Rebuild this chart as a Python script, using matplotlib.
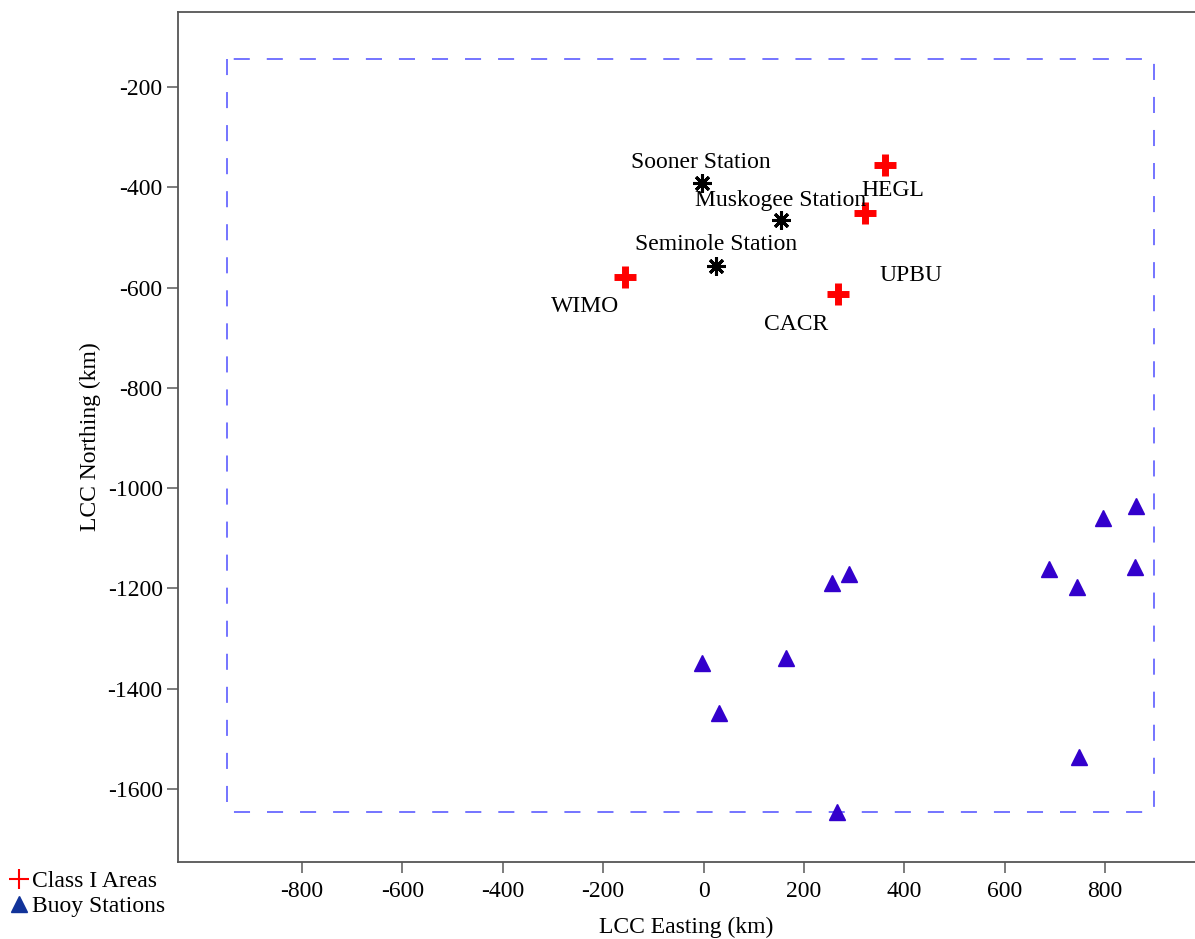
import matplotlib
matplotlib.use('Agg')
import matplotlib.pyplot as plt
from matplotlib.lines import Line2D

plt.rcParams['font.family'] = ['Liberation Serif', 'DejaVu Serif']
plt.rcParams['font.size'] = 17
plt.rcParams['axes.unicode_minus'] = False

# class I areas (red crosses)
class1_x = [361.6, 321.8, -156.4, 267.4]
class1_y = [-355.6, -450.6, -578.3, -613.5]
class1_names = ['HEGL', 'UPBU', 'WIMO', 'CACR']
class1_label_x = [377.6, 413.4, -236.0, 184.3]
class1_label_y = [-405.4, -575.0, -636.8, -672.7]

# power stations (black asterisks)
station_x = [-3.6, 153.8, 24.9]
station_y = [-392.0, -465.3, -557.0]
station_names = ['Sooner Station', 'Muskogee Station', 'Seminole Station']
station_label_x = [-5.0, 154.0, 24.9]
station_label_y = [-349.6, -425.4, -515.0]

# buoy stations (blue triangles)
buoy_x = [862.3, 796.6, 689.0, 860.3, 744.2, 747.6, 289.3, 256.0, -3.0, 165.0, 31.5, 266.6]
buoy_y = [-1035.7, -1060.2, -1160.7, -1156.7, -1197.8, -1536.9,
          -1171.9, -1189.8, -1349.4, -1339.4, -1449.1, -1646.5]

# modeling domain outline
domain_x = [-949, -949, 898, 898, -949]
domain_y = [-144, -1646, -1646, -144, -144]

x_ticks = list(range(-800, 801, 200))
y_ticks = list(range(-1600, -199, 200))

fig = plt.figure(figsize=(11.95, 9.39), dpi=100)
ax = fig.add_axes([178 / 1195, 77 / 939, 1017 / 1195, 850 / 939])

ax.plot(domain_x, domain_y, color='#4444ff', lw=1.3, alpha=0.8,
        dashes=(8.9, 9.4), zorder=1)

ax.plot(buoy_x, buoy_y, ls='none', marker='^', ms=11, color='#3300cc',
        mec='#3300cc', zorder=3, clip_on=False)
ax.plot(class1_x, class1_y, ls='none', marker='+', ms=16, mew=5,
        color='red', zorder=3)
ax.plot(station_x, station_y, ls='none', marker=(8, 2, 0), ms=13, mew=2.2,
        color='black', zorder=3)

for name, lx, ly in zip(class1_names, class1_label_x, class1_label_y):
    ax.text(lx, ly, name, ha='center', va='center')
for name, lx, ly in zip(station_names, station_label_x, station_label_y):
    ax.text(lx, ly, name, ha='center', va='center')

ax.set_xlim(-1047, 979)
ax.set_ylim(-1745.6, -50.4)
ax.set_xticks(x_ticks)
ax.set_yticks(y_ticks)
ax.tick_params(direction='out', length=8, width=1.2, color='#666666', pad=6)
ax.tick_params(axis='y', pad=3)
ax.spines['right'].set_visible(False)
for side in ['left', 'top', 'bottom']:
    ax.spines[side].set_color('#555555')
    ax.spines[side].set_linewidth(1.3)

ax.set_xlabel('LCC Easting (km)', labelpad=10)
ax.set_ylabel('LCC Northing (km)', labelpad=5)

handles = [
    Line2D([], [], ls='none', marker='+', ms=14, mew=1.5, color='red', label='Class I Areas'),
    Line2D([], [], ls='none', marker='^', ms=11, color='#113399', label='Buoy Stations'),
]
fig.legend(handles=handles, loc='upper left', bbox_to_anchor=(0.0, 0.083),
           frameon=False, handlelength=0.8, handletextpad=0.15,
           labelspacing=0.15, borderpad=0.2, borderaxespad=0.2)

fig.savefig('out.png', dpi=100)
